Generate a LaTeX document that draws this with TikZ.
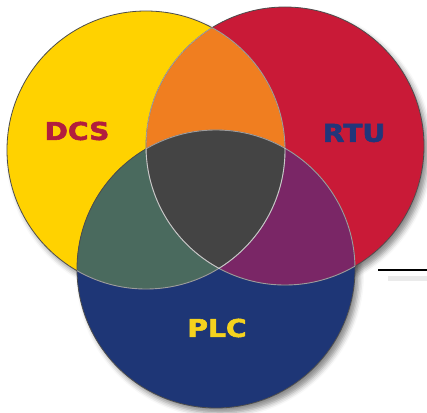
\documentclass[tikz,border=0pt]{standalone}
\usepackage{fontspec}
\newfontfamily\lblfont{DejaVu Sans Bold}[FakeBold=2.2]
\usetikzlibrary{shadows.blur}
\definecolor{cyel}{RGB}{255,210,0}
\definecolor{cred}{RGB}{201,26,55}
\definecolor{cblu}{RGB}{30,54,118}
\definecolor{corg}{RGB}{240,126,32}
\definecolor{cgrn}{RGB}{74,106,94}
\definecolor{cpur}{RGB}{122,38,102}
\definecolor{cgry}{RGB}{68,68,68}
\definecolor{tdcs}{RGB}{178,30,62}
\definecolor{trtu}{RGB}{34,54,122}
\definecolor{tplc}{RGB}{245,210,30}
\tikzset{
  lbl/.style={font=\lblfont\fontsize{24.5}{24.5}\selectfont, xscale=1.15, inner sep=0pt},
  shad/.style={blur shadow={shadow xshift=4pt, shadow yshift=-5pt, shadow blur radius=5pt, shadow opacity=45}},
  edge/.style={draw=black!70, line width=0.8pt},
  inner/.style={draw=white, draw opacity=0.45, line width=0.9pt}
}
\begin{document}
\begin{tikzpicture}[x=1pt,y=-1pt]
\useasboundingbox (0,0) rectangle (427,412);
\def\R{139}
\coordinate (cy) at (146,150);
\coordinate (cr) at (285,146);
\coordinate (cb) at (216,269);
% shadows
\fill[white, shad] (cr) circle (\R);
\fill[white, shad] (cb) circle (\R);
\fill[white, shad] (cy) circle (\R);
% base fills
\fill[cyel] (cy) circle (\R);
\fill[cred] (cr) circle (\R);
\fill[cblu] (cb) circle (\R);
% pairwise overlaps
\begin{scope}\clip (cy) circle (\R); \fill[corg] (cr) circle (\R);\end{scope}
\begin{scope}\clip (cy) circle (\R); \fill[cgrn] (cb) circle (\R);\end{scope}
\begin{scope}\clip (cr) circle (\R); \fill[cpur] (cb) circle (\R);\end{scope}
\begin{scope}\clip (cy) circle (\R); \clip (cr) circle (\R); \fill[cgry] (cb) circle (\R);\end{scope}
% outlines
\draw[edge] (cy) circle (\R);
\draw[edge] (cr) circle (\R);
\draw[edge] (cb) circle (\R);
\begin{scope}\clip (cr) circle (\R); \draw[inner] (cy) circle (\R); \draw[inner] (cb) circle (\R);\end{scope}
\begin{scope}\clip (cb) circle (\R); \draw[inner] (cy) circle (\R); \draw[inner] (cr) circle (\R);\end{scope}
\begin{scope}\clip (cy) circle (\R); \draw[inner] (cr) circle (\R);\end{scope}
% labels
\node[lbl, text=tdcs] (dcs) at (77,131) {DCS};
\node[lbl, text=trtu] (rtu) at (354,133) {RTU};
\node[lbl, text=tplc] (plc) at (217,328) {PLC};
% right line
\coordinate (la) at (378,270);
\coordinate (lb) at (427,270);
\coordinate (sa) at (388,278);
\coordinate (sb) at (427,278);
\draw[black!8, line width=5pt] (sa) -- (sb);
\draw[black, line width=1.6pt] (la) -- (lb);
\end{tikzpicture}
\end{document}
